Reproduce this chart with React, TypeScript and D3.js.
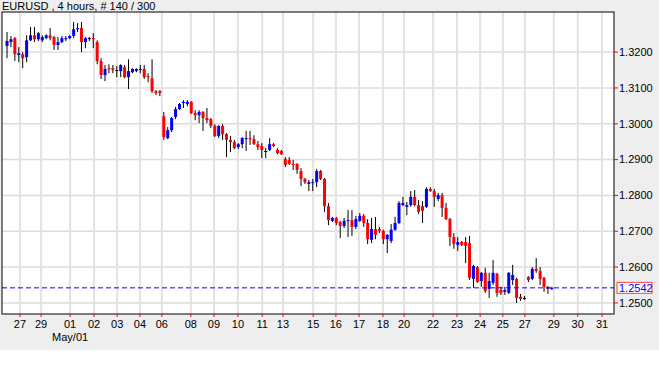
import React from 'react';
import * as d3 from 'd3';

// EURUSD 4h candles (oldest first)
const opens = [
  1.3217, 1.3228, 1.3239, 1.3192, 1.3194, 1.3186, 1.3233, 1.3247, 1.3236, 1.3233,
  1.3239, 1.3247, 1.3242, 1.322, 1.3228, 1.3236, 1.3239, 1.3245, 1.3264, 1.3267,
  1.3228, 1.3239, 1.3239, 1.3228, 1.3175, 1.3136, 1.3155, 1.3155, 1.315, 1.3147,
  1.3158, 1.313, 1.3144, 1.3147, 1.315, 1.3153, 1.3133, 1.3127, 1.3091, 1.3091,
  1.3021, 1.296, 1.2982, 1.3019, 1.3041, 1.3058, 1.3055, 1.3061, 1.303, 1.3024,
  1.3033, 1.3016, 1.3013, 1.2994, 1.2966, 1.2994, 1.2971, 1.2955, 1.2949, 1.2935,
  1.2943, 1.2957, 1.296, 1.2957, 1.2943, 1.2938, 1.2924, 1.2927, 1.2943, 1.2927,
  1.2924, 1.2902, 1.2899, 1.2888, 1.2888, 1.2868, 1.2846, 1.2832, 1.2835, 1.2837,
  1.2868, 1.2846, 1.277, 1.2729, 1.2737, 1.2726, 1.2715, 1.2729, 1.2731, 1.2712,
  1.2729, 1.2743, 1.2723, 1.2676, 1.2706, 1.2706, 1.2701, 1.2678, 1.2673, 1.2704,
  1.2723, 1.2773, 1.2768, 1.2773, 1.2796, 1.2773, 1.277, 1.2768, 1.2818, 1.2812,
  1.279, 1.2801, 1.2765, 1.2734, 1.2684, 1.2662, 1.267, 1.267, 1.2667, 1.2567,
  1.26, 1.2561, 1.2584, 1.2539, 1.2556, 1.2581, 1.2536, 1.2531, 1.2528, 1.2564,
  1.2567, 1.2517, 1.2514, 1.2572, 1.2567, 1.2595, 1.2589, 1.257, 1.2545, 1.2539,
];
const highs = [
  1.3256, 1.3245, 1.3242, 1.3214, 1.32, 1.3247, 1.327, 1.327, 1.3256, 1.3247,
  1.325, 1.3267, 1.3245, 1.3242, 1.3245, 1.3245, 1.3247, 1.3284, 1.3281, 1.3284,
  1.3242, 1.3242, 1.3253, 1.3233, 1.3183, 1.3164, 1.3166, 1.3164, 1.3161, 1.3166,
  1.3164, 1.318, 1.3155, 1.3155, 1.3164, 1.3164, 1.3141, 1.318, 1.3094, 1.3094,
  1.3033, 1.2991, 1.3019, 1.3047, 1.3058, 1.3066, 1.3066, 1.3063, 1.3038, 1.3038,
  1.3035, 1.3044, 1.3016, 1.2999, 1.2996, 1.2999, 1.2974, 1.2966, 1.2955, 1.2946,
  1.2963, 1.298, 1.298, 1.2968, 1.2952, 1.2946, 1.2932, 1.296, 1.2946, 1.2932,
  1.2927, 1.2907, 1.2907, 1.2899, 1.289, 1.2876, 1.2849, 1.2843, 1.2846, 1.2874,
  1.2871, 1.2849, 1.2779, 1.274, 1.274, 1.2729, 1.2737, 1.2759, 1.2759, 1.2743,
  1.2751, 1.2748, 1.2734, 1.2737, 1.274, 1.2712, 1.2704, 1.2692, 1.272, 1.274,
  1.2784, 1.2796, 1.2782, 1.2812, 1.2815, 1.2787, 1.2784, 1.2823, 1.2823, 1.2818,
  1.2807, 1.2807, 1.2779, 1.2737, 1.2695, 1.2684, 1.2673, 1.2684, 1.2687, 1.2606,
  1.2603, 1.2586, 1.2598, 1.2584, 1.262, 1.2584, 1.2545, 1.2545, 1.2586, 1.2606,
  1.257, 1.2525, 1.2519, 1.2575, 1.26, 1.2625, 1.26, 1.2572, 1.2547, 1.2545,
];
const lows = [
  1.3183, 1.3214, 1.3175, 1.3172, 1.3155, 1.3172, 1.3231, 1.3228, 1.3231, 1.3228,
  1.3236, 1.3233, 1.3206, 1.3206, 1.3225, 1.3231, 1.3236, 1.3239, 1.3256, 1.32,
  1.3211, 1.3231, 1.3211, 1.3166, 1.3125, 1.3119, 1.3141, 1.3141, 1.313, 1.313,
  1.3127, 1.3097, 1.3141, 1.3144, 1.3141, 1.3125, 1.3116, 1.3086, 1.308, 1.3077,
  1.2955, 1.2957, 1.2977, 1.3013, 1.3038, 1.3044, 1.3049, 1.3027, 1.301, 1.3002,
  1.298, 1.3002, 1.2988, 1.2963, 1.296, 1.2955, 1.2907, 1.2921, 1.2929, 1.2929,
  1.2932, 1.2924, 1.2941, 1.2941, 1.2927, 1.2904, 1.2904, 1.2924, 1.2935, 1.2915,
  1.2913, 1.2879, 1.2885, 1.2871, 1.286, 1.2826, 1.2832, 1.2812, 1.2812, 1.2823,
  1.2843, 1.2754, 1.2717, 1.2726, 1.2717, 1.2681, 1.2709, 1.2684, 1.2687, 1.2706,
  1.2726, 1.2712, 1.2664, 1.2667, 1.2678, 1.2695, 1.2664, 1.2639, 1.2667, 1.2701,
  1.272, 1.277, 1.2745, 1.2768, 1.277, 1.2748, 1.2723, 1.2765, 1.281, 1.2768,
  1.2784, 1.274, 1.2731, 1.2659, 1.2651, 1.2645, 1.2659, 1.2611, 1.2564, 1.2542,
  1.2556, 1.2545, 1.2528, 1.2514, 1.255, 1.2517, 1.2522, 1.2522, 1.2525, 1.255,
  1.25, 1.2506, 1.2508, 1.2558, 1.2564, 1.2584, 1.255, 1.2531, 1.2525, 1.2536,
];
const closes = [
  1.3231, 1.3236, 1.3194, 1.3197, 1.3183, 1.3233, 1.3247, 1.3236, 1.3253, 1.3242,
  1.3247, 1.3239, 1.322, 1.3228, 1.3239, 1.3239, 1.3245, 1.3264, 1.3267, 1.3228,
  1.3239, 1.3239, 1.3236, 1.3175, 1.3136, 1.3153, 1.3153, 1.315, 1.315, 1.3164,
  1.313, 1.3147, 1.3153, 1.3153, 1.3153, 1.313, 1.313, 1.3091, 1.3086, 1.3086,
  1.2963, 1.2982, 1.3016, 1.3041, 1.3055, 1.3061, 1.3061, 1.303, 1.3024, 1.3033,
  1.3016, 1.301, 1.2994, 1.2966, 1.2994, 1.2971, 1.2955, 1.2949, 1.2932, 1.2943,
  1.296, 1.296, 1.2957, 1.2943, 1.2935, 1.2927, 1.2924, 1.2943, 1.2938, 1.2918,
  1.2915, 1.2885, 1.2888, 1.2885, 1.2871, 1.2846, 1.2837, 1.2837, 1.2837, 1.2868,
  1.2846, 1.277, 1.2731, 1.2737, 1.2723, 1.2715, 1.2729, 1.2731, 1.2712, 1.2734,
  1.2743, 1.2723, 1.2678, 1.2706, 1.269, 1.2701, 1.2678, 1.269, 1.2704, 1.2723,
  1.2779, 1.2779, 1.2773, 1.2796, 1.2773, 1.2754, 1.2757, 1.2818, 1.2812, 1.2796,
  1.2801, 1.2765, 1.2734, 1.2684, 1.2664, 1.267, 1.2662, 1.2659, 1.257, 1.2603,
  1.2558, 1.2584, 1.2533, 1.2561, 1.2584, 1.2528, 1.2528, 1.2536, 1.2584, 1.2578,
  1.2514, 1.2511, 1.2514, 1.2564, 1.2595, 1.2589, 1.2567, 1.2545, 1.2539, 1.2542,
];

// day labels and the bar position where each day starts
const dayLabels = ['27', '29', '01', '02', '03', '04', '06', '08', '09', '10', '11', '13', '15',
  '16', '17', '18', '20', '22', '23', '24', '25', '27', '29', '30', '31'];
const dayBars = [3.3, 8.7, 16.1, 22.2, 28.1, 33.9, 39.5, 46.9, 52.8, 58.9, 65.1, 70.4, 78.1,
  83.9, 89.8, 95.9, 101.3, 108.7, 114.8, 120.7, 126.5, 132.1, 139.5, 145.6, 151.8];
const monthLabel = 'May/01';
const monthLabelDay = 2;

const priceTicks = [1.25, 1.26, 1.27, 1.28, 1.29, 1.3, 1.31, 1.32];
const lastPrice = 1.2542;
const title = 'EURUSD , 4 hours, # 140 / 300';

const W = 659;
const H = 367;
const plot = { left: 2, right: 614, top: 12, bottom: 314 };
const font = '"Liberation Sans", Arial, sans-serif';

export default function App() {
  const x = d3.scaleLinear().domain([-1.28, 154.85]).range([plot.left, plot.right]);
  const y = d3.scaleLinear().domain([1.2469, 1.3312]).range([plot.bottom, plot.top]);
  const fmt = d3.format('.4f');

  const candles = d3.range(opens.length).map((i) => ({
    i,
    o: opens[i],
    h: highs[i],
    l: lows[i],
    c: closes[i],
  }));

  return (
    <svg width={W} height={H} style={{ position: 'absolute', left: 0, top: 0 }} fontFamily={font}>
      <rect x={0} y={0} width={W} height={350} fill="#eeeeee" />
      <rect x={0} y={350} width={W} height={H - 350} fill="#ffffff" />
      <text x={2} y={10} fontSize={11} fill="#000">{title}</text>

      {/* plot background */}
      <rect x={plot.left} y={plot.top} width={plot.right - plot.left} height={plot.bottom - plot.top} fill="#fff" />

      {/* grid */}
      {priceTicks.map((p) => (
        <line key={'h' + p} x1={plot.left} x2={plot.right} y1={y(p)} y2={y(p)} stroke="#dcdcdc" strokeWidth={1.5} />
      ))}
      {dayBars.map((b, k) => (
        <line key={'v' + k} x1={x(b)} x2={x(b)} y1={plot.top} y2={plot.bottom} stroke="#e2e2e2" strokeWidth={2} />
      ))}

      {/* candles */}
      {candles.map((d) => {
        const cx = x(d.i);
        const top = y(Math.max(d.o, d.c));
        const bot = y(Math.min(d.o, d.c));
        const fill = d.c > d.o ? '#0000ff' : d.c < d.o ? '#ff0000' : '#000000';
        return (
          <g key={d.i}>
            <line x1={cx} x2={cx} y1={y(d.h)} y2={y(d.l)} stroke="#000" strokeWidth={1} />
            <rect x={cx - 1.5} y={top} width={3} height={Math.max(1, bot - top)} fill={fill} />
          </g>
        );
      })}

      {/* last price line */}
      <line x1={plot.left} x2={plot.right} y1={y(lastPrice)} y2={y(lastPrice)} stroke="#0000ff" strokeWidth={1} strokeDasharray="5,3" />

      {/* frame */}
      <rect x={plot.left} y={plot.top} width={plot.right - plot.left} height={plot.bottom - plot.top} fill="none" stroke="#000" strokeWidth={1} />

      {/* y axis */}
      {priceTicks.map((p) => (
        <g key={'yt' + p}>
          <line x1={plot.right} x2={plot.right + 4} y1={y(p)} y2={y(p)} stroke="#ff0000" />
          <text x={plot.right + 5} y={y(p)} dy="0.35em" fontSize={11} fill="#000">{fmt(p)}</text>
        </g>
      ))}
      <rect x={617} y={y(lastPrice) - 5.5} width={35} height={11} fill="#fff" stroke="#ff4040" />
      <text x={619} y={y(lastPrice)} dy="0.35em" fontSize={11} fill="#0000ff">{fmt(lastPrice)}</text>

      {/* x axis */}
      {dayBars.map((b, k) => (
        <g key={'xt' + k}>
          <line x1={x(b)} x2={x(b)} y1={plot.bottom} y2={plot.bottom + 3} stroke="#ff0000" />
          <text x={x(b)} y={328} textAnchor="middle" fontSize={11} fill="#000">{dayLabels[k]}</text>
        </g>
      ))}
      <text x={x(dayBars[monthLabelDay])} y={341} textAnchor="middle" fontSize={11} fill="#000">{monthLabel}</text>
    </svg>
  );
}
